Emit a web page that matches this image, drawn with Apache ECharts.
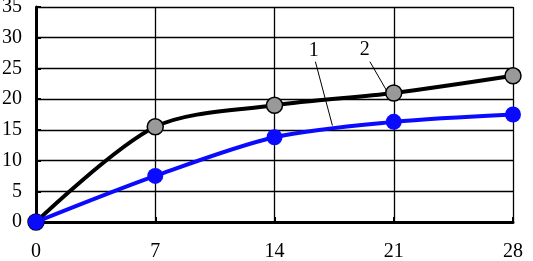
<!DOCTYPE html>
<html><head><meta charset="utf-8">
<script src="https://cdn.jsdelivr.net/npm/echarts@6/dist/echarts.min.js"></script>
<style>html,body{margin:0;padding:0;background:#fff}#c{width:533px;height:261px}</style>
</head><body><div id="c"></div>
<script>
const days = [0, 7, 14, 21, 28];
const series1 = [0, 7.5, 13.8, 16.3, 17.5];
const series2 = [0, 15.5, 19.0, 21.0, 23.8];
const xTicks = [0, 7, 14, 21, 28];
const seriesLabels = ['1', '2'];
// annotation anchors in data units: [labelPos, lineStart, lineEnd]
const ann1 = [[16.3, 27.8], [16.4, 26.1], [17.4, 15.7]];
const ann2 = [[19.3, 28.1], [19.6, 26.1], [20.6, 21.3]];

const font = 'Liberation Serif';
const chart = echarts.init(document.getElementById('c'));
chart.setOption({
  animation: false,
  grid: {left: 36, right: 20, top: 7, bottom: 39, containLabel: false, outerBoundsMode: 'none'},
  xAxis: {type: 'value', min: 0, max: 28, interval: 7,
    axisLine: {show: true, onZero: false, lineStyle: {color: '#000', width: 3}},
    axisTick: {show: true, inside: true, length: 5, lineStyle: {color: '#000', width: 2}},
    axisLabel: {color: '#000', fontFamily: font, fontSize: 20, margin: 20},
    splitLine: {show: true, lineStyle: {color: '#000', width: 1.3}}},
  yAxis: {type: 'value', min: 0, max: 35, interval: 5,
    axisLine: {show: true, lineStyle: {color: '#000', width: 3}},
    axisTick: {show: true, inside: true, length: 5, lineStyle: {color: '#000', width: 2}},
    axisLabel: {color: '#000', fontFamily: font, fontSize: 20, margin: 14},
    splitLine: {show: true, lineStyle: {color: '#000', width: 1.3}}},
  series: [
    {type: 'line', name: seriesLabels[1], data: days.map((d, i) => [d, series2[i]]), smooth: 0.3,
      lineStyle: {color: '#000', width: 4}, symbol: 'circle', symbolSize: 16,
      itemStyle: {color: '#999', borderColor: '#000', borderWidth: 1.5}, z: 3},
    {type: 'line', name: seriesLabels[0], data: days.map((d, i) => [d, series1[i]]), smooth: 0.3,
      lineStyle: {color: '#0a0aff', width: 4}, symbol: 'circle', symbolSize: 16,
      itemStyle: {color: '#0a0aff'}, z: 4}
  ]
});
function px(p) { return chart.convertToPixel({gridIndex: 0}, p); }
function ann(a, txt) {
  const l = px(a[0]), s = px(a[1]), e = px(a[2]);
  return [
    {type: 'text', x: l[0], y: l[1], style: {text: txt, font: '20px ' + font, fill: '#000', align: 'center', verticalAlign: 'middle'}, z: 10},
    {type: 'line', shape: {x1: s[0], y1: s[1], x2: e[0], y2: e[1]}, style: {stroke: '#000', lineWidth: 1}, z: 10}
  ];
}
chart.setOption({graphic: ann(ann1, seriesLabels[0]).concat(ann(ann2, seriesLabels[1]))});
</script></body></html>
